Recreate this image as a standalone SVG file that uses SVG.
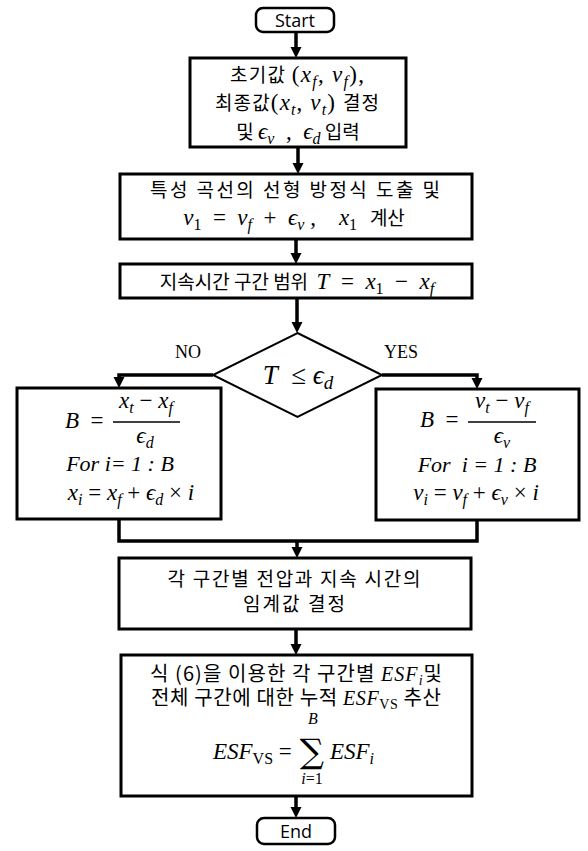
<svg xmlns="http://www.w3.org/2000/svg" width="588" height="851" viewBox="0 0 588 851">
<style>
.box{fill:#fff;stroke:#000;stroke-width:3}
.term{fill:#fff;stroke:#000;stroke-width:2.5}
.dia{fill:#fff;stroke:#000;stroke-width:2}
.con{fill:none;stroke:#000;stroke-width:3.5}
.kr{font-family:"Noto Sans CJK KR","Noto Sans",sans-serif;font-size:19px}
.mi{font-family:"Liberation Serif","DejaVu Serif",serif;font-style:italic;font-size:23px}
.mu{font-family:"Liberation Serif","DejaVu Serif",serif;font-style:normal;font-size:23px}
.sb{font-family:"Liberation Serif","DejaVu Serif",serif;font-style:italic;font-size:16px}
.sbu{font-family:"Liberation Serif","DejaVu Serif",serif;font-style:normal;font-size:16px}
.lbl{font-family:"Liberation Serif",serif;font-size:18px}
.ss{font-family:"Open Sans","Noto Sans",sans-serif;font-size:18px}
</style>
<defs>
<path id="ah" d="M-5.5,-11 L5.5,-11 L0,0 Z" fill="#000"/>
</defs>
<g id="connectors">
<line class="con" x1="296" y1="32" x2="296" y2="50"/>
<use href="#ah" x="296" y="58"/>
<line class="con" x1="298" y1="147" x2="298" y2="166"/>
<use href="#ah" x="298" y="174"/>
<line class="con" x1="296" y1="239" x2="296" y2="256"/>
<use href="#ah" x="296" y="264"/>
<line class="con" x1="297" y1="298" x2="297" y2="325"/>
<use href="#ah" x="297" y="333"/>
<polyline class="con" points="213,375 119,375 119,380"/>
<use href="#ah" x="119" y="388"/>
<polyline class="con" points="382,375 477,375 477,381"/>
<use href="#ah" x="477" y="389"/>
<polyline class="con" points="119,519 119,541 477,541 477,520"/>
<line class="con" x1="297" y1="541" x2="297" y2="550"/>
<use href="#ah" x="297" y="558"/>
<line class="con" x1="296" y1="629" x2="296" y2="647"/>
<use href="#ah" x="296" y="655"/>
<line class="con" x1="296" y1="796" x2="296" y2="810"/>
<use href="#ah" x="296" y="818"/>
<text class="lbl" x="188" y="358" text-anchor="middle">NO</text>
<text class="lbl" x="401" y="358" text-anchor="middle">YES</text>
</g>
<g id="start">
<rect class="term" x="256" y="8" width="78" height="24" rx="7"/>
<text class="ss" x="295" y="27" text-anchor="middle">Start</text>
</g>
<g id="init">
<rect class="box" x="190" y="58" width="216" height="89"/>
<text x="297" y="82" text-anchor="middle" textLength="134" lengthAdjust="spacing"><tspan class="kr">초기값 </tspan><tspan class="mu">(</tspan><tspan class="mi">x</tspan><tspan class="sb" dy="5">f</tspan><tspan class="mu" dy="-5">, </tspan><tspan class="mi">v</tspan><tspan class="sb" dy="5">f</tspan><tspan class="mu" dy="-5">),</tspan></text>
<text x="297" y="110" text-anchor="middle" textLength="164" lengthAdjust="spacing"><tspan class="kr">최종값</tspan><tspan class="mu">(</tspan><tspan class="mi">x</tspan><tspan class="sb" dy="5">t</tspan><tspan class="mu" dy="-5">, </tspan><tspan class="mi">v</tspan><tspan class="sb" dy="5">t</tspan><tspan class="mu" dy="-5">) </tspan><tspan class="kr">결정</tspan></text>
<text x="298" y="139" text-anchor="middle"><tspan class="kr">및 </tspan><tspan class="mi">ϵ</tspan><tspan class="sb" dy="5">v</tspan><tspan class="mu" dy="-5">&#160; , &#160;</tspan><tspan class="mi">ϵ</tspan><tspan class="sb" dy="5">d</tspan><tspan class="kr" dy="-5"> 입력</tspan></text>
</g>
<g id="linear">
<rect class="box" x="120" y="174" width="352" height="65"/>
<text class="kr" x="295" y="197" text-anchor="middle" textLength="290" lengthAdjust="spacing">특성 곡선의 선형 방정식 도출 및</text>
<text x="294" y="225" text-anchor="middle"><tspan class="mi">v</tspan><tspan class="sbu" dy="5">1</tspan><tspan class="mu" dy="-5">&#160; = &#160;</tspan><tspan class="mi">v</tspan><tspan class="sb" dy="5">f</tspan><tspan class="mu" dy="-5">&#160; + &#160;</tspan><tspan class="mi">ϵ</tspan><tspan class="sb" dy="5">v</tspan><tspan class="mu" dy="-5"> , &#160;&#160; </tspan><tspan class="mi">x</tspan><tspan class="sbu" dy="5">1</tspan><tspan class="kr" dy="-5">&#160;&#160; 계산</tspan></text>
</g>
<g id="range">
<rect class="box" x="120" y="264" width="352" height="34"/>
<text x="297" y="289" text-anchor="middle"><tspan class="kr">지속시간 구간 범위 &#160;</tspan><tspan class="mi">T</tspan><tspan class="mu">&#160; = &#160;</tspan><tspan class="mi">x</tspan><tspan class="sbu" dy="5">1</tspan><tspan class="mu" dy="-5">&#160; − &#160;</tspan><tspan class="mi">x</tspan><tspan class="sb" dy="5">f</tspan></text>
</g>
<g id="decision">
<polygon class="dia" points="297.5,333 382,375 297.5,417 213,375"/>
<text x="298" y="384" text-anchor="middle"><tspan class="mi" style="font-size:27px">T</tspan><tspan class="mu" style="font-size:27px">&#160; ≤ </tspan><tspan class="mi" style="font-size:27px">ϵ</tspan><tspan class="sb" style="font-size:19px" dy="5">d</tspan></text>
</g>
<g id="no-branch">
<rect class="box" x="17" y="388" width="204" height="131"/>
<text x="65" y="428"><tspan class="mi">B</tspan><tspan class="mu">&#160; = </tspan></text>
<text x="146" y="408" text-anchor="middle"><tspan class="mi">x</tspan><tspan class="sb" dy="5">t</tspan><tspan class="mu" dy="-5"> − </tspan><tspan class="mi">x</tspan><tspan class="sb" dy="5">f</tspan></text>
<line x1="113" y1="422" x2="180" y2="422" stroke="#000" stroke-width="1.5"/>
<text x="145" y="443" text-anchor="middle"><tspan class="mi">ϵ</tspan><tspan class="sb" dy="5">d</tspan></text>
<text x="120" y="471" text-anchor="middle" class="mi" style="font-size:22px">For i= 1 : B</text>
<text x="131" y="500" text-anchor="middle"><tspan class="mi">x</tspan><tspan class="sb" dy="5">i</tspan><tspan class="mu" dy="-5"> = </tspan><tspan class="mi">x</tspan><tspan class="sb" dy="5">f</tspan><tspan class="mu" dy="-5"> + </tspan><tspan class="mi">ϵ</tspan><tspan class="sb" dy="5">d</tspan><tspan class="mu" dy="-5"> × </tspan><tspan class="mi">i</tspan></text>
</g>
<g id="yes-branch">
<rect class="box" x="376" y="389" width="203" height="131"/>
<text x="420" y="427"><tspan class="mi">B</tspan><tspan class="mu">&#160; = </tspan></text>
<text x="502" y="408" text-anchor="middle"><tspan class="mi">v</tspan><tspan class="sb" dy="5">t</tspan><tspan class="mu" dy="-5"> − </tspan><tspan class="mi">v</tspan><tspan class="sb" dy="5">f</tspan></text>
<line x1="468" y1="422" x2="536" y2="422" stroke="#000" stroke-width="1.5"/>
<text x="502" y="443" text-anchor="middle"><tspan class="mi">ϵ</tspan><tspan class="sb" dy="5">v</tspan></text>
<text x="477" y="472" text-anchor="middle" class="mi" style="font-size:22px">For &#160;i = 1 : B</text>
<text x="476" y="500" text-anchor="middle"><tspan class="mi">v</tspan><tspan class="sb" dy="5">i</tspan><tspan class="mu" dy="-5"> = </tspan><tspan class="mi">v</tspan><tspan class="sb" dy="5">f</tspan><tspan class="mu" dy="-5"> + </tspan><tspan class="mi">ϵ</tspan><tspan class="sb" dy="5">v</tspan><tspan class="mu" dy="-5"> × </tspan><tspan class="mi">i</tspan></text>
</g>
<g id="threshold">
<rect class="box" x="119" y="558" width="352" height="71"/>
<text class="kr" x="294" y="586" text-anchor="middle" textLength="253" lengthAdjust="spacing">각 구간별 전압과 지속 시간의</text>
<text class="kr" x="294" y="611" text-anchor="middle" textLength="102" lengthAdjust="spacing">임계값 결정</text>
</g>
<g id="esf">
<rect class="box" x="121" y="655" width="351" height="141"/>
<text x="296" y="681" text-anchor="middle" textLength="292" lengthAdjust="spacing"><tspan class="kr" style="font-size:20px">식 (6)을 이용한 각 구간별 </tspan><tspan class="mi" style="font-size:20px">ESF</tspan><tspan class="sb" style="font-size:14px" dy="4">i</tspan><tspan class="kr" style="font-size:20px" dy="-4">및</tspan></text>
<text x="296" y="705" text-anchor="middle" textLength="290" lengthAdjust="spacing"><tspan class="kr" style="font-size:20px">전체 구간에 대한 누적 </tspan><tspan class="mi" style="font-size:20px">ESF</tspan><tspan class="sbu" style="font-size:14px" dy="4">VS</tspan><tspan class="kr" style="font-size:20px" dy="-4"> 추산</tspan></text>
<text x="213" y="759"><tspan class="mi">ESF</tspan><tspan class="sbu" dy="5">VS</tspan><tspan class="mu" dy="-5"> =</tspan></text>
<text x="312" y="763" text-anchor="middle" font-family="DejaVu Serif,serif" font-size="34">∑</text>
<text x="313" y="724" text-anchor="middle" class="sb">B</text>
<text x="312" y="784" text-anchor="middle"><tspan class="sb">i</tspan><tspan class="sbu">=1</tspan></text>
<text x="330" y="759"><tspan class="mi">ESF</tspan><tspan class="sb" dy="5">i</tspan></text>
</g>
<g id="end">
<rect class="term" x="257" y="818" width="78" height="26" rx="7"/>
<text class="ss" x="296" y="838" text-anchor="middle">End</text>
</g>
</svg>
